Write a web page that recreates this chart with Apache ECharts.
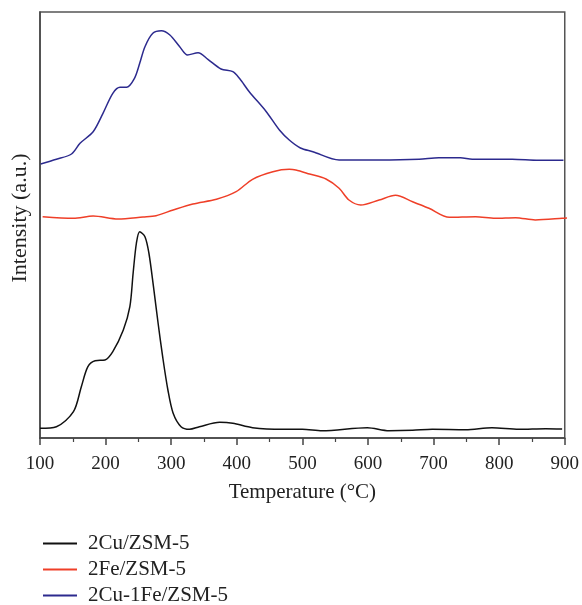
<!DOCTYPE html>
<html>
<head>
<meta charset="utf-8">
<script src="https://cdn.jsdelivr.net/npm/echarts@6/dist/echarts.min.js"></script>
<style>
  html,body{margin:0;padding:0;background:#fff;}
  #main{width:582px;height:605px;}
</style>
</head>
<body>
<div id="main"></div>
<script>
// temperature (°C) and intensity (a.u.)
var cuT = [100,125,151,163,173,184,199,211,227,237,242,247,252,260,266,273,280,287,295,303,315,328,343,374,394,424,470,500,530,599,632,668,698,749,789,830,871,896];
var cuY = [9.7,11.3,26.3,51.3,71.3,77.3,78,86.3,108,131.3,165,195,206.3,201.3,185,151.3,115,81.3,48,24.7,11.3,8.7,11.3,15.7,14.7,10.3,8.7,8.7,7.3,10.3,7.3,7.7,8.7,8.3,10.3,8.7,9.3,9];

var feT = [104,151,181,219,257,277,303,333,369,399,424,455,480,490,511,536,556,571,589,617,642,668,693,724,764,794,825,855,896,914];
var feY = [221.3,219.7,222,219,221,222.3,228,234,238.7,246.3,258.7,266.3,268.7,268,264,259,249.7,238,233,238,242.7,236.3,229.7,220.7,221.3,219.7,220.3,218,219.7,220.7];

var cuFeT = [101,125,148,161,181,196,211,222,232,244,252,260,272,285,298,313,325,341,356,376,394,404,419,445,465,480,497,516,556,617,678,708,741,759,820,860,898];
var cuFeY = [274,278.7,284,294.7,306.3,324.7,344.7,350.7,350.7,359.7,374.7,391.3,404.7,407.3,403,391.3,383,385.3,378.7,369,366.3,359.7,346.3,326.3,308,298,290,286.3,278,278,278.7,280.3,280.3,278.7,278.7,277.7,277.7];

var names = ['2Cu/ZSM-5','2Fe/ZSM-5','2Cu-1Fe/ZSM-5'];
var colors = ['#111111','#ef3f28','#2c2a8e'];

function pairs(t,y){
  var out=[];
  for(var i=0;i<t.length;i++) out.push([t[i],y[i]]);
  return out;
}

var font = 'Liberation Serif';
var myChart = echarts.init(document.getElementById('main'));

var option = {
  animation:false,
  textStyle:{fontFamily:font},
  grid:{left:40,right:16,top:12,bottom:167,show:true,borderColor:'#555',borderWidth:1.5},
  legend:{
    orient:'vertical',left:38,top:528,height:90,
    icon:'rect',itemWidth:34,itemHeight:2,itemGap:5,
    data:names,
    textStyle:{fontFamily:font,fontSize:21,color:'#222',padding:[0,0,0,6]}
  },
  xAxis:{
    type:'value',min:100,max:900,interval:100,
    name:'Temperature (°C)',nameLocation:'middle',nameGap:44,
    nameTextStyle:{fontFamily:font,fontSize:21,color:'#222'},
    axisLine:{lineStyle:{color:'#444',width:1.5}},
    axisTick:{show:true,length:7,lineStyle:{color:'#444',width:1.5}},
    minorTick:{show:true,splitNumber:2,length:4,lineStyle:{color:'#444',width:1.2}},
    axisLabel:{fontFamily:font,fontSize:19,color:'#222',margin:17},
    splitLine:{show:false}
  },
  yAxis:{
    type:'value',min:0,max:426,
    name:'Intensity (a.u.)',nameLocation:'middle',nameGap:9,
    nameTextStyle:{fontFamily:font,fontSize:22,color:'#222',padding:[0,0,0,14]},
    axisLine:{show:true,lineStyle:{color:'#444',width:1.5}},
    axisTick:{show:false},
    axisLabel:{show:false},
    splitLine:{show:false}
  },
  series:[
    {name:names[0],type:'line',data:pairs(cuT,cuY),smooth:0.3,symbol:'none',
     lineStyle:{color:colors[0],width:1.5},itemStyle:{color:colors[0]}},
    {name:names[1],type:'line',data:pairs(feT,feY),smooth:0.3,symbol:'none',clip:false,
     lineStyle:{color:colors[1],width:1.5},itemStyle:{color:colors[1]}},
    {name:names[2],type:'line',data:pairs(cuFeT,cuFeY),smooth:0.3,symbol:'none',
     lineStyle:{color:colors[2],width:1.5},itemStyle:{color:colors[2]}}
  ]
};

myChart.setOption(option);
</script>
</body>
</html>
